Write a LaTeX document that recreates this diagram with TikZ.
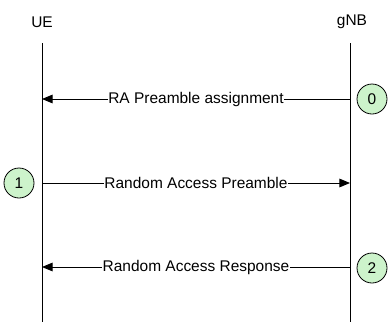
\documentclass[tikz,border=0pt]{standalone}
\usepackage{fontspec}
\setmainfont{Liberation Sans}
\usetikzlibrary{arrows.meta}
\definecolor{stepgreen}{RGB}{205,243,203}
\tikzset{
  lifeline/.style={line width=0.75pt},
  msg/.style={line width=0.75pt, -{Triangle[length=8pt, width=6.5pt]}},
  msglabel/.style={fill=white, inner sep=0.6pt, font=\fontsize{11.6}{13}\selectfont},
  entity/.style={font=\fontsize{11.6}{13}\selectfont},
  stepcircle/.style={circle, draw, line width=0.6pt, fill=stepgreen,
    minimum size=22.5pt, inner sep=0pt, font=\fontsize{11.6}{13}\selectfont}
}
\begin{document}
\begin{tikzpicture}[x=0.75pt, y=-0.75pt]
  \useasboundingbox (0,0) rectangle (389,322);
  % entities
  \node[entity] (ue) at (42,22) {UE};
  \node[entity] (gnb) at (352,22) {gNB};
  \coordinate (uetop) at (42,43);
  \coordinate (uebot) at (42,322);
  \coordinate (gnbtop) at (350,43);
  \coordinate (gnbbot) at (350,322);
  \draw[lifeline] (uetop) -- (uebot);
  \draw[lifeline] (gnbtop) -- (gnbbot);
  % step 0
  \coordinate (gnb0) at (350,99);
  \coordinate (ue0) at (42,99);
  \draw[msg] (gnb0) -- node[msglabel] (msg0) {RA Preamble assignment} (ue0);
  \node[stepcircle] (step0) at (372,99) {0};
  % step 1
  \coordinate (ue1) at (42,183);
  \coordinate (gnb1) at (350,183);
  \draw[msg] (ue1) -- node[msglabel] (msg1) {Random Access Preamble} (gnb1);
  \node[stepcircle] (step1) at (19,183) {1};
  % step 2
  \coordinate (gnb2) at (350,267);
  \coordinate (ue2) at (42,267);
  \draw[msg] (gnb2) -- node[msglabel] (msg2) {Random Access Response} (ue2);
  \node[stepcircle] (step2) at (372,268) {2};
\end{tikzpicture}
\end{document}
